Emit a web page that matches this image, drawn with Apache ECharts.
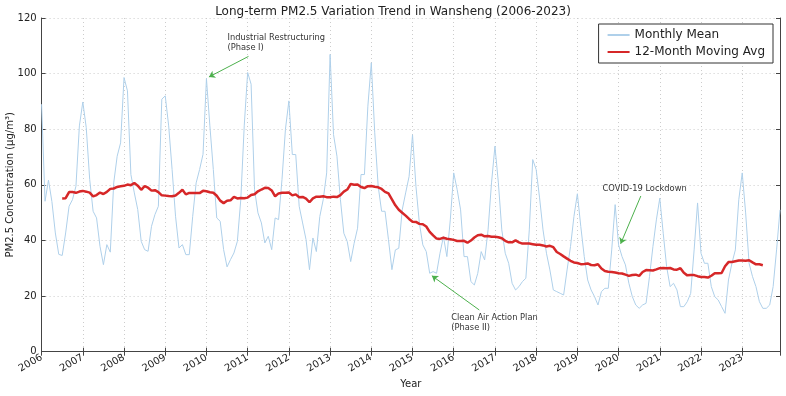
<!DOCTYPE html>
<html>
<head>
<meta charset="utf-8">
<script src="https://cdn.jsdelivr.net/npm/echarts@6/dist/echarts.min.js"></script>
<style>
  html, body { margin: 0; background: #fff; }
  #chart { width: 786px; height: 396px; }
</style>
</head>
<body>
<div id="chart"></div>
<script>
// monthly PM2.5 means, Jan 2006 .. Dec 2023 (one row per year)
const startYear = 2006
const endYear = 2023
const monthlyMean = [
  89.0, 54.1, 61.7, 54.0, 42.7, 35.0, 34.6, 42.7, 52.3, 54.7, 59.5, 81.2,
  89.8, 80.6, 62.0, 50.5, 48.1, 37.9, 31.3, 38.5, 35.8, 60.7, 70.3, 75.1,
  98.6, 93.8, 63.7, 57.1, 51.1, 39.7, 36.7, 36.1, 45.1, 49.3, 52.3, 90.8,
  92.0, 81.2, 65.5, 48.7, 37.3, 38.5, 34.9, 34.9, 48.7, 60.7, 65.5, 71.0,
  98.2, 81.2, 65.5, 48.1, 46.9, 36.7, 30.5, 33.1, 35.5, 39.7, 54.7, 81.2,
  100.4, 96.2, 58.3, 49.9, 46.3, 39.1, 41.5, 36.7, 48.1, 47.5, 62.0, 80.0,
  90.2, 70.9, 70.9, 52.3, 46.3, 40.3, 29.5, 40.9, 36.0, 48.6, 54.7, 64.3,
  106.9, 78.1, 70.3, 54.7, 42.6, 39.6, 32.4, 39.0, 44.4, 63.7, 63.7, 88.3,
  103.9, 78.7, 59.5, 50.5, 50.5, 40.3, 29.5, 36.6, 37.2, 51.0, 57.1, 63.0,
  78.0, 59.5, 46.2, 38.4, 36.0, 28.2, 28.8, 28.2, 35.4, 41.4, 34.2, 47.4,
  64.3, 58.3, 51.0, 34.2, 34.2, 25.2, 24.0, 28.2, 36.0, 33.0, 43.8, 60.7,
  73.9, 60.7, 43.8, 35.4, 31.8, 24.6, 22.2, 23.4, 25.2, 26.4, 43.8, 69.1,
  65.5, 55.3, 43.8, 35.4, 29.4, 22.2, 21.6, 21.0, 20.4, 29.4, 37.8, 48.6,
  56.8, 45.0, 34.2, 25.8, 22.2, 19.8, 16.8, 21.6, 22.8, 22.8, 36.6, 52.9,
  38.4, 34.2, 31.2, 24.6, 19.8, 16.8, 15.6, 16.8, 17.4, 27.0, 37.8, 47.4,
  55.2, 42.6, 30.5, 23.4, 24.6, 22.2, 16.2, 16.2, 18.0, 21.0, 36.6, 53.5,
  35.4, 31.8, 31.8, 23.4, 19.8, 18.6, 16.2, 13.8, 25.8, 31.8, 36.6, 54.7,
  64.3, 49.9, 31.8, 27.0, 23.4, 18.0, 15.6, 15.6, 16.8, 23.4, 36.6, 51.0
]
const maWindow = 12

// annotation text, arrow tail and arrow head (data coords)
const notes = [
  { text: 'Industrial Restructuring\n(Phase I)', textAt: [2010.51, 114.8], from: [2011.02, 106.2], to: [2010.06, 98.8] },
  { text: 'Clean Air Action Plan\n(Phase II)', textAt: [2015.94, 13.9], from: [2016.62, 15.0], to: [2015.47, 27.3] },
  { text: 'COVID-19 Lockdown', textAt: [2019.61, 60.4], from: [2020.54, 56.0], to: [2020.05, 38.8] }
]

const FONT = 'DejaVu Sans'
const monthlyPts = monthlyMean.map((v, i) => [startYear + i / 12, v])

// centred 12-month rolling mean (window i-6 .. i+5)
const maPts = []
for (let i = maWindow / 2; i <= monthlyMean.length - maWindow / 2; i++) {
  const win = monthlyMean.slice(i - maWindow / 2, i + maWindow / 2)
  maPts.push([startYear + i / 12, win.reduce((a, b) => a + b, 0) / maWindow])
}

const xMin = startYear
const xMax = startYear + (monthlyMean.length - 1) / 12
const spine = { show: true, lineStyle: { color: '#444', width: 1 } }
const tick = { show: true, inside: true, length: 4, lineStyle: { color: '#444' } }
const grid = { show: true, lineStyle: { color: '#ccc', type: [1, 3], width: 1 } }

const chart = echarts.init(document.getElementById('chart'))
chart.setOption({
  animation: false,
  textStyle: { fontFamily: FONT },
  title: {
    text: 'Long-term PM2.5 Variation Trend in Wansheng (2006-2023)',
    left: 'center', top: 1,
    textStyle: { fontFamily: FONT, fontSize: 12, fontWeight: 'normal', color: '#222' }
  },
  legend: {
    orient: 'vertical', right: 13, top: 24,
    padding: [5, 8, 5, 8], itemGap: 5, itemWidth: 22, itemHeight: 14,
    borderColor: '#333', borderWidth: 1, borderRadius: 0, backgroundColor: '#fff',
    itemStyle: { opacity: 0 },
    textStyle: { fontFamily: FONT, fontSize: 12, color: '#222' },
    data: ['Monthly Mean', '12-Month Moving Avg']
  },
  grid: { left: 41.6, right: 6, top: 18, bottom: 44.3, outerBoundsMode: 'none' },
  xAxis: [{
    type: 'value', min: xMin, max: xMax, interval: 1,
    name: 'Year', nameLocation: 'middle', nameGap: 28, nameMoveOverlap: false,
    nameTextStyle: { fontFamily: FONT, fontSize: 10, color: '#222' },
    axisLine: spine, axisTick: tick, splitLine: grid,
    axisLabel: {
      rotate: 30, fontSize: 10, color: '#222', margin: 5, showMaxLabel: false,
      formatter: v => (Number.isInteger(v) ? String(v) : '')
    }
  }, {
    type: 'value', position: 'top', min: xMin, max: xMax, interval: 1,
    axisLine: spine, axisTick: tick, splitLine: { show: false }, axisLabel: { show: false }
  }],
  yAxis: [{
    type: 'value', min: 0, max: 120, interval: 20,
    name: 'PM2.5 Concentration (μg/m³)', nameLocation: 'middle', nameGap: 26, nameMoveOverlap: false,
    nameTextStyle: { fontFamily: FONT, fontSize: 10, color: '#222' },
    axisLine: spine, axisTick: tick, splitLine: grid,
    axisLabel: { fontSize: 10, color: '#222', margin: 5 }
  }, {
    type: 'value', position: 'right', min: 0, max: 120, interval: 20,
    axisLine: spine, axisTick: tick, splitLine: { show: false }, axisLabel: { show: false }
  }],
  series: [
    {
      name: 'Monthly Mean',
      type: 'line',
      data: monthlyPts,
      symbol: 'none',
      color: '#afd0ea',
      lineStyle: { color: '#afd0ea', width: 1 },
      z: 2,
      markPoint: {
        symbol: 'circle', symbolSize: 0, silent: true,
        label: {
          show: true, position: [0, 0], align: 'left', verticalAlign: 'top',
          fontFamily: FONT, fontSize: 8.3, lineHeight: 10, color: '#333',
          formatter: p => p.name
        },
        data: notes.map(n => ({ name: n.text, coord: n.textAt }))
      },
      markLine: {
        silent: true, symbol: ['none', 'arrow'], symbolSize: 6,
        label: { show: false },
        lineStyle: { color: '#4cb04c', width: 1, type: 'solid' },
        data: notes.map(n => [{ coord: n.from }, { coord: n.to }])
      }
    },
    {
      name: '12-Month Moving Avg',
      type: 'line',
      data: maPts,
      symbol: 'none',
      color: '#d62728',
      lineStyle: { color: '#d62728', width: 2.5 },
      z: 3
    }
  ]
})
</script>
</body>
</html>
